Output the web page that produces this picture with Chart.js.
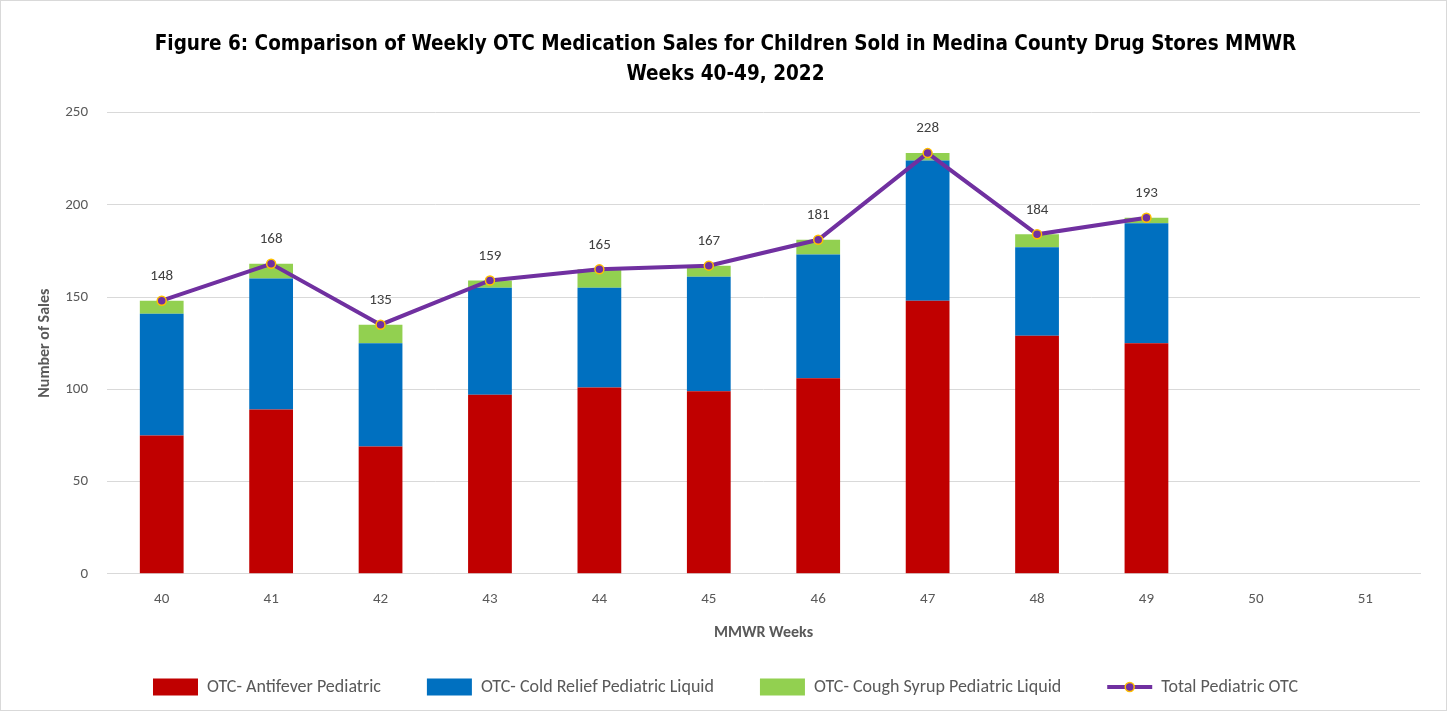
<!DOCTYPE html>
<html>
<head>
<meta charset="utf-8">
<script src="https://cdn.jsdelivr.net/npm/chart.js@4"></script>
<style>
  html, body { margin: 0; padding: 0; background: #fff; }
  #wrap { width: 1445px; height: 709px; border: 1px solid #d9d9d9; position: relative; }
</style>
</head>
<body>
<div id="wrap"><canvas id="salesChart"></canvas></div>
<script>
const weeks = ['40', '41', '42', '43', '44', '45', '46', '47', '48', '49', '50', '51'];
const antifever = [75, 89, 69, 97, 101, 99, 106, 148, 129, 125, null, null];
const coldRelief = [66, 71, 56, 58, 54, 62, 67, 76, 48, 65, null, null];
const coughSyrup = [7, 8, 10, 4, 10, 6, 8, 4, 7, 3, null, null];
const totalOTC = [148, 168, 135, 159, 165, 167, 181, 228, 184, 193, null, null];
const yTicks = [0, 50, 100, 150, 200, 250];

const grey = '#595959';
const purple = '#7030A0';
const gold = '#FFC000';
const axisFont = "Calibri, 'Open Sans', sans-serif";

// labels above the total line points + dot on the legend line marker
const totalLabels = {
  id: 'totalLabels',
  afterDatasetsDraw(chart) {
    const ctx = chart.ctx;
    const meta = chart.getDatasetMeta(3);
    ctx.save();
    ctx.font = "15px " + axisFont;
    ctx.fillStyle = '#404040';
    ctx.textAlign = 'center';
    ctx.textBaseline = 'bottom';
    meta.data.forEach((pt, i) => {
      if (totalOTC[i] == null) return;
      ctx.fillText(totalOTC[i], pt.x, pt.y - 17);
    });
    ctx.restore();
  },
  afterDraw(chart) {
    const legend = chart.legend;
    const idx = legend.legendItems.findIndex(it => it.datasetIndex === 3);
    const box = legend.legendHitBoxes[idx];
    if (!box) return;
    const ctx = chart.ctx;
    ctx.save();
    ctx.beginPath();
    ctx.arc(box.left + 22.5, box.top + box.height / 2, 4.5, 0, Math.PI * 2);
    ctx.fillStyle = purple;
    ctx.fill();
    ctx.lineWidth = 1.5;
    ctx.strokeStyle = gold;
    ctx.stroke();
    ctx.restore();
  }
};

const ctx = document.getElementById('salesChart').getContext('2d');
new Chart(ctx, {
  type: 'bar',
  data: {
    labels: weeks,
    datasets: [
      { label: 'OTC- Antifever Pediatric', data: antifever, backgroundColor: '#C00000', stack: 's', order: 1 },
      { label: 'OTC- Cold Relief Pediatric Liquid', data: coldRelief, backgroundColor: '#0070C0', stack: 's', order: 1 },
      { label: 'OTC- Cough Syrup Pediatric Liquid', data: coughSyrup, backgroundColor: '#92D050', stack: 's', order: 1 },
      {
        type: 'line', label: 'Total Pediatric OTC', data: totalOTC, order: 0,
        borderColor: purple, backgroundColor: purple, borderWidth: 4,
        pointRadius: 4.5, pointBackgroundColor: purple, pointBorderColor: gold,
        pointBorderWidth: 1.5, pointStyle: 'circle', tension: 0
      }
    ]
  },
  options: {
    responsive: true,
    maintainAspectRatio: false,
    animation: false,
    datasets: { bar: { barPercentage: 0.4, categoryPercentage: 1 } },
    layout: { padding: { left: 30, right: 26, top: 12, bottom: 4 } },
    plugins: {
      title: {
        display: true,
        text: ['Figure 6: Comparison of Weekly OTC Medication Sales for Children Sold in Medina County Drug Stores MMWR', 'Weeks 40-49, 2022'],
        color: '#000',
        font: { family: "'Liberation Sans Narrow', 'DejaVu Sans Condensed', sans-serif", size: 20.5, weight: 'bold', lineHeight: 1.5 },
        padding: { top: 16, bottom: 22 }
      },
      legend: {
        position: 'bottom',
        labels: {
          generateLabels(chart) {
            const items = Chart.defaults.plugins.legend.labels.generateLabels(chart);
            items.forEach(it => {
              if (it.datasetIndex === 3) {
                it.pointStyle = 'line';
                it.strokeStyle = purple;
                it.lineWidth = 4;
              } else {
                it.pointStyle = 'rect';
                it.lineWidth = 0;
              }
            });
            return items;
          },
          usePointStyle: true,
          pointStyleWidth: 45,
          boxHeight: 17,
          padding: 46,
          color: grey,
          font: { family: axisFont, size: 18 },
          sort: (a, b) => a.datasetIndex - b.datasetIndex
        }
      },
      tooltip: { enabled: false }
    },
    scales: {
      x: {
        stacked: true,
        grid: { display: false },
        border: { color: '#d9d9d9' },
        ticks: { color: grey, font: { family: axisFont, size: 15 }, padding: 8 },
        title: { display: true, text: 'MMWR Weeks', color: grey, font: { family: axisFont, size: 16, weight: 'bold' }, padding: { top: 8, bottom: -11 } }
      },
      y: {
        stacked: true,
        min: 0, max: 250,
        afterBuildTicks: (axis) => { axis.ticks = yTicks.map(v => ({ value: v })); },
        grid: { color: '#d9d9d9', drawTicks: false },
        border: { display: false },
        ticks: { color: grey, font: { family: axisFont, size: 15 }, padding: 19 },
        title: { display: true, text: 'Number of Sales', color: grey, font: { family: axisFont, size: 16, weight: 'bold' }, padding: { top: 4, bottom: -8 } }
      }
    }
  },
  plugins: [totalLabels]
});
</script>
</body>
</html>
